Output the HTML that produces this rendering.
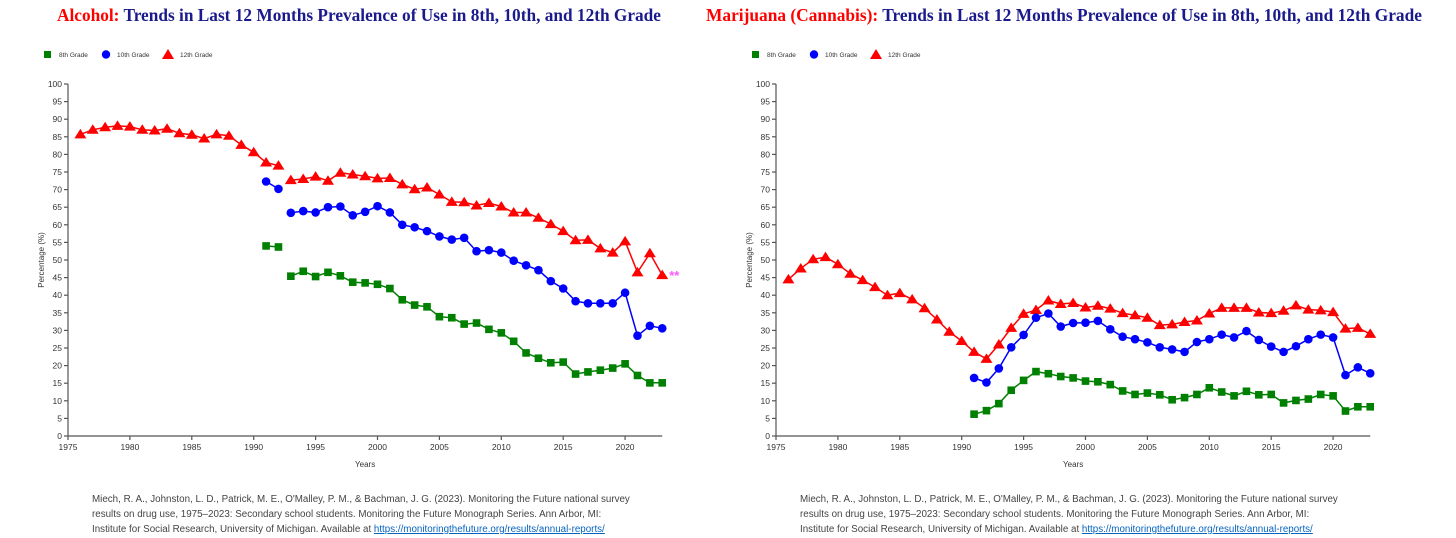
<!DOCTYPE html>
<html><head><meta charset="utf-8"><style>
body{margin:0;background:#fff;width:1456px;height:538px;overflow:hidden;font-family:"Liberation Sans",sans-serif}
svg{position:absolute;left:0;top:0}
.cite{position:absolute;font-size:9.8px;line-height:15px;color:#444;white-space:nowrap}
.cite a{color:#0563c1;text-decoration:underline}
</style></head><body>
<svg id="chart" width="1456" height="538"></svg>
<div class="cite" style="left:92px;top:492px">Miech, R. A., Johnston, L. D., Patrick, M. E., O'Malley, P. M., &amp; Bachman, J. G. (2023). Monitoring the Future national survey<br>results on drug use, 1975–2023: Secondary school students. Monitoring the Future Monograph Series. Ann Arbor, MI:<br>Institute for Social Research, University of Michigan. Available at <a>https://monitoringthefuture.org/results/annual-reports/</a></div>
<div class="cite" style="left:800px;top:492px">Miech, R. A., Johnston, L. D., Patrick, M. E., O'Malley, P. M., &amp; Bachman, J. G. (2023). Monitoring the Future national survey<br>results on drug use, 1975–2023: Secondary school students. Monitoring the Future Monograph Series. Ann Arbor, MI:<br>Institute for Social Research, University of Michigan. Available at <a>https://monitoringthefuture.org/results/annual-reports/</a></div>
<script>
const xTicks=[1975,1980,1985,1990,1995,2000,2005,2010,2015,2020];
const yTicks=[0,5,10,15,20,25,30,35,40,45,50,55,60,65,70,75,80,85,90,95,100];
const alc12Years=[1976,1977,1978,1979,1980,1981,1982,1983,1984,1985,1986,1987,1988,1989,1990,1991,1992,null,1993,1994,1995,1996,1997,1998,1999,2000,2001,2002,2003,2004,2005,2006,2007,2008,2009,2010,2011,2012,2013,2014,2015,2016,2017,2018,2019,2020,2021,2022,2023];
const alc12=[85.7,87.0,87.7,88.1,87.9,87.0,86.8,87.3,86.0,85.6,84.5,85.7,85.3,82.7,80.6,77.7,76.8,null,72.7,73.0,73.7,72.5,74.8,74.3,73.8,73.2,73.3,71.5,70.1,70.6,68.6,66.5,66.4,65.5,66.2,65.2,63.5,63.5,62.0,60.2,58.2,55.6,55.7,53.3,52.1,55.3,46.5,51.9,45.7];
const lowYears=[1991,1992,null,1993,1994,1995,1996,1997,1998,1999,2000,2001,2002,2003,2004,2005,2006,2007,2008,2009,2010,2011,2012,2013,2014,2015,2016,2017,2018,2019,2020,2021,2022,2023];
const alc10=[72.3,70.2,null,63.4,63.9,63.5,65.0,65.2,62.7,63.7,65.3,63.5,60.0,59.3,58.2,56.7,55.8,56.3,52.5,52.8,52.1,49.8,48.5,47.1,44.0,41.9,38.3,37.7,37.7,37.7,40.7,28.5,31.3,30.6];
const alc8=[54.0,53.7,null,45.4,46.8,45.3,46.5,45.5,43.7,43.5,43.1,41.9,38.7,37.2,36.7,33.9,33.6,31.8,32.1,30.3,29.3,26.9,23.6,22.1,20.8,21.0,17.6,18.2,18.7,19.3,20.5,17.2,15.1,15.1];
const mj12Years=[1976,1977,1978,1979,1980,1981,1982,1983,1984,1985,1986,1987,1988,1989,1990,1991,1992,1993,1994,1995,1996,1997,1998,1999,2000,2001,2002,2003,2004,2005,2006,2007,2008,2009,2010,2011,2012,2013,2014,2015,2016,2017,2018,2019,2020,2021,2022,2023];
const mj12=[44.5,47.6,50.2,50.8,48.8,46.1,44.3,42.3,40.0,40.6,38.8,36.3,33.1,29.6,27.0,23.9,21.9,26.0,30.7,34.7,35.8,38.5,37.5,37.8,36.5,37.0,36.2,34.9,34.3,33.6,31.5,31.7,32.4,32.8,34.8,36.4,36.4,36.4,35.1,34.9,35.6,37.1,35.9,35.7,35.2,30.5,30.7,29.0];
const mjYears=[1991,1992,1993,1994,1995,1996,1997,1998,1999,2000,2001,2002,2003,2004,2005,2006,2007,2008,2009,2010,2011,2012,2013,2014,2015,2016,2017,2018,2019,2020,2021,2022,2023];
const mj10=[16.5,15.2,19.2,25.2,28.7,33.6,34.8,31.1,32.1,32.2,32.7,30.3,28.2,27.5,26.6,25.2,24.6,23.9,26.7,27.5,28.8,28.0,29.8,27.3,25.4,23.9,25.5,27.5,28.8,28.0,17.3,19.5,17.8];
const mj8=[6.2,7.2,9.2,13.0,15.8,18.3,17.7,16.9,16.5,15.6,15.4,14.6,12.8,11.8,12.2,11.7,10.3,10.9,11.8,13.7,12.5,11.4,12.7,11.7,11.8,9.4,10.1,10.5,11.8,11.4,7.1,8.3,8.3];

const NS='http://www.w3.org/2000/svg';
const svg=document.getElementById('chart');
function mk(tag,attrs,parent,text){const e=document.createElementNS(NS,tag);for(const k in attrs)e.setAttribute(k,attrs[k]);if(text!=null)e.textContent=text;(parent||svg).appendChild(e);return e;}

function drawChart(ox,pre,titleRed,titleBlue,titleX,titleW,series,star){
  const x=y=>ox+(y-1975)*12.38;
  const yv=v=>436-v*3.52;
  const g=mk('g',{});
  
  
  const t=mk('text',{x:titleX,y:21,textLength:titleW,lengthAdjust:'spacingAndGlyphs','font-family':'"Liberation Serif",serif','font-size':'18','font-weight':'bold'},g);
  
  
  mk('tspan',{fill:'#f00'},t,titleRed);
  mk('tspan',{fill:'#1a1a8c'},t,' '+titleBlue);
  const lg=mk('g',{'font-size':'6.5','fill':'#333'},g);
  
  
  const lx=ox-20;
  mk('rect',{x:lx-4,y:51,width:7,height:7,fill:'#008000'},lg);
  mk('text',{x:lx+11,y:57},lg,'8th Grade');
  mk('circle',{cx:lx+58,cy:54.5,r:4.2,fill:'#00f'},lg);
  mk('text',{x:lx+69,y:57},lg,'10th Grade');
  mk('path',{d:`M${lx+120},49 L${lx+126},59 L${lx+114},59 Z`,fill:'#f00'},lg);
  mk('text',{x:lx+132,y:57},lg,'12th Grade');
  const ax=mk('g',{stroke:'#555','stroke-width':'1.2',fill:'none'},g);
  
  
  mk('line',{x1:ox,y1:yv(100),x2:ox,y2:436},ax);
  mk('line',{x1:ox,y1:436,x2:x(2023),y2:436},ax);
  yTicks.forEach(v=>{
    mk('line',{x1:ox-4,y1:yv(v),x2:ox,y2:yv(v)},ax);
    const l=mk('text',{x:ox-6,y:yv(v)+3,'text-anchor':'end','font-size':'8.5',fill:'#333'},g,String(v));
    
    
  });
  xTicks.forEach(v=>{
    mk('line',{x1:x(v),y1:436,x2:x(v),y2:440},ax);
    const l=mk('text',{x:x(v),y:450,'text-anchor':'middle','font-size':'8.5',fill:'#333'},g,String(v));
    
    
  });
  const yt=mk('text',{x:0,y:0,transform:`translate(${ox-24},${yv(50)}) rotate(-90)`,'text-anchor':'middle','font-size':'8',fill:'#333'},g,'Percentage (%)');
  
  
  const xt=mk('text',{x:x(1999),y:467,'text-anchor':'middle','font-size':'8',fill:'#333'},g,'Years');
  
  
  series.forEach(s=>{
    const sg=mk('g',{},g);
    
    
    let d='',pen=false;
    s.years.forEach((yr,i)=>{const v=s.vals[i];if(yr==null||v==null){pen=false;return;}d+=(pen?'L':'M')+x(yr).toFixed(1)+','+yv(v).toFixed(1);pen=true;});
    mk('path',{d:d,fill:'none',stroke:s.color,'stroke-width':'1.5'},sg);
    s.years.forEach((yr,i)=>{const v=s.vals[i];if(yr==null||v==null)return;
      const cx=x(yr),cy=yv(v);let m;
      if(s.shape==='sq')m=mk('rect',{x:cx-3.8,y:cy-3.8,width:7.6,height:7.6,fill:s.color},sg);
      else if(s.shape==='ci')m=mk('circle',{cx:cx,cy:cy,r:4.3,fill:s.color},sg);
      else m=mk('path',{d:`M${cx},${cy-5.5} L${cx+6},${cy+4} L${cx-6},${cy+4} Z`,fill:s.color},sg);
      
      
    });
  });
  if(star){const st=mk('text',{x:x(2023)+7,y:yv(alc12[alc12.length-1])+5,'font-size':'13','font-weight':'bold',fill:'#f5f'},g,'**');
    
    }
}
drawChart(68,'alcohol','Alcohol:','Trends in Last 12 Months Prevalence of Use in 8th, 10th, and 12th Grade',57,604,[
  {name:'12th',years:alc12Years,vals:alc12,color:'#f00',shape:'tri'},
  {name:'10th',years:lowYears,vals:alc10,color:'#00f',shape:'ci'},
  {name:'8th',years:lowYears,vals:alc8,color:'#008000',shape:'sq'}],true);
drawChart(776,'marijuana','Marijuana (Cannabis):','Trends in Last 12 Months Prevalence of Use in 8th, 10th, and 12th Grade',706,716,[
  {name:'12th',years:mj12Years,vals:mj12,color:'#f00',shape:'tri'},
  {name:'10th',years:mjYears,vals:mj10,color:'#00f',shape:'ci'},
  {name:'8th',years:mjYears,vals:mj8,color:'#008000',shape:'sq'}],false);
</script>
</body></html>
